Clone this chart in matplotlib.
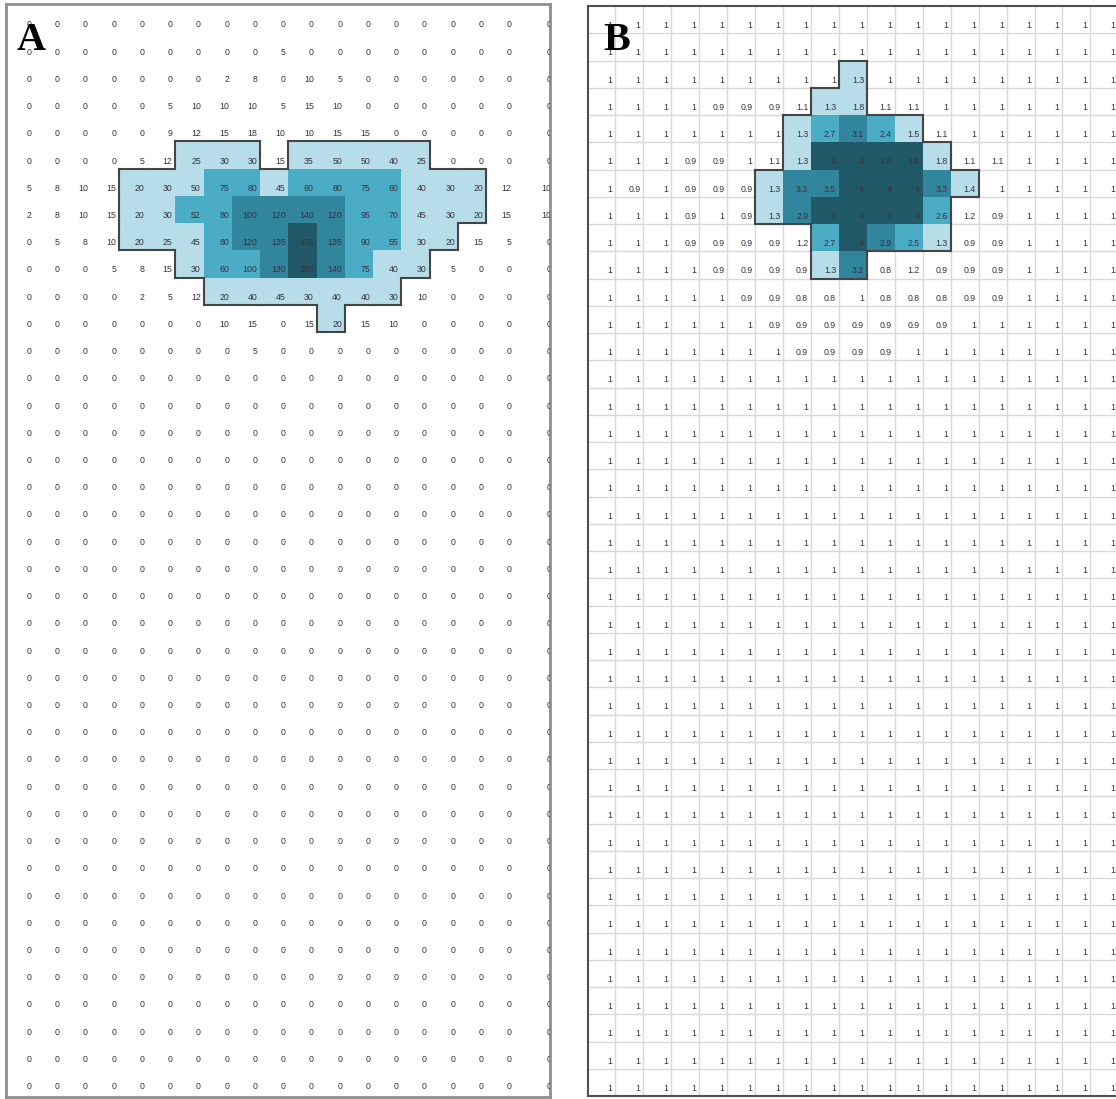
import numpy as np
import matplotlib.pyplot as plt
from matplotlib.collections import LineCollection
from matplotlib.colors import ListedColormap, BoundaryNorm

N_ROWS = 40
N_COLS = 19

# panel A: counts per cell, rows below these are all zero
a_rows = [
    [0, 0, 0, 0, 0, 0, 0, 0, 0, 0, 0, 0, 0, 0, 0, 0, 0, 0, 0],
    [0, 0, 0, 0, 0, 0, 0, 0, 0, 5, 0, 0, 0, 0, 0, 0, 0, 0, 0],
    [0, 0, 0, 0, 0, 0, 0, 2, 8, 0, 10, 5, 0, 0, 0, 0, 0, 0, 0],
    [0, 0, 0, 0, 0, 5, 10, 10, 10, 5, 15, 10, 0, 0, 0, 0, 0, 0, 0],
    [0, 0, 0, 0, 0, 9, 12, 15, 18, 10, 10, 15, 15, 0, 0, 0, 0, 0, 0],
    [0, 0, 0, 0, 5, 12, 25, 30, 30, 15, 35, 50, 50, 40, 25, 0, 0, 0, 0],
    [5, 8, 10, 15, 20, 30, 50, 75, 80, 45, 60, 80, 75, 60, 40, 30, 20, 12, 10],
    [2, 8, 10, 15, 20, 30, 52, 80, 100, 120, 140, 120, 95, 70, 45, 30, 20, 15, 10],
    [0, 5, 8, 10, 20, 25, 45, 80, 120, 135, 175, 135, 90, 55, 30, 20, 15, 5, 0],
    [0, 0, 0, 5, 8, 15, 30, 60, 100, 130, 180, 140, 75, 40, 30, 5, 0, 0, 0],
    [0, 0, 0, 0, 2, 5, 12, 20, 40, 45, 30, 40, 40, 30, 10, 0, 0, 0, 0],
    [0, 0, 0, 0, 0, 0, 0, 10, 15, 0, 15, 20, 15, 10, 0, 0, 0, 0, 0],
    [0, 0, 0, 0, 0, 0, 0, 0, 5, 0, 0, 0, 0, 0, 0, 0, 0, 0, 0],
]

# panel B: ratios per cell, rows below these are all 1
b_rows = [
    [1, 1, 1, 1, 1, 1, 1, 1, 1, 1, 1, 1, 1, 1, 1, 1, 1, 1, 1],
    [1, 1, 1, 1, 1, 1, 1, 1, 1, 1, 1, 1, 1, 1, 1, 1, 1, 1, 1],
    [1, 1, 1, 1, 1, 1, 1, 1, 1, 1.3, 1, 1, 1, 1, 1, 1, 1, 1, 1],
    [1, 1, 1, 1, 0.9, 0.9, 0.9, 1.1, 1.3, 1.8, 1.1, 1.1, 1, 1, 1, 1, 1, 1, 1],
    [1, 1, 1, 1, 1, 1, 1, 1.3, 2.7, 3.1, 2.4, 1.5, 1.1, 1, 1, 1, 1, 1, 1],
    [1, 1, 1, 0.9, 0.9, 1, 1.1, 1.3, 4, 4, 3.8, 3.9, 1.8, 1.1, 1.1, 1, 1, 1, 1],
    [1, 0.9, 1, 0.9, 0.9, 0.9, 1.3, 3.3, 3.5, 4, 4, 4, 3.3, 1.4, 1, 1, 1, 1, 1],
    [1, 1, 1, 0.9, 1, 0.9, 1.3, 2.9, 4, 4, 4, 4, 2.6, 1.2, 0.9, 1, 1, 1, 1],
    [1, 1, 1, 0.9, 0.9, 0.9, 0.9, 1.2, 2.7, 4, 2.9, 2.5, 1.3, 0.9, 0.9, 1, 1, 1, 1],
    [1, 1, 1, 1, 0.9, 0.9, 0.9, 0.9, 1.3, 3.2, 0.8, 1.2, 0.9, 0.9, 0.9, 1, 1, 1, 1],
    [1, 1, 1, 1, 1, 0.9, 0.9, 0.8, 0.8, 1, 0.8, 0.8, 0.8, 0.9, 0.9, 1, 1, 1, 1],
    [1, 1, 1, 1, 1, 1, 0.9, 0.9, 0.9, 0.9, 0.9, 0.9, 0.9, 1, 1, 1, 1, 1, 1],
    [1, 1, 1, 1, 1, 1, 1, 0.9, 0.9, 0.9, 0.9, 1, 1, 1, 1, 1, 1, 1, 1],
]

# class limits for the fill shades
a_bins = [20, 51, 100, 170]
b_bins = [1.3, 2.3, 2.8, 3.7]
a_fix = {(9, 8): 2}

shades = ["#b7dde8", "#4bacc6", "#31859c", "#215968"]


def full_grid(rows, fill):
    g = np.full((N_ROWS, N_COLS), float(fill))
    g[:len(rows)] = np.array(rows, dtype=float)
    return g


def classify(vals, bins, fixes=None):
    lev = np.digitize(vals, bins)
    for (r, c), v in (fixes or {}).items():
        lev[r, c] = v
    return lev


def outline(lev, xe):
    mask = lev > 0
    segs = []
    for r in range(N_ROWS):
        for c in range(N_COLS):
            if not mask[r, c]:
                continue
            x0, x1 = xe[c], xe[c + 1]
            if r == 0 or not mask[r - 1, c]:
                segs.append([(x0, r), (x1, r)])
            if r == N_ROWS - 1 or not mask[r + 1, c]:
                segs.append([(x0, r + 1), (x1, r + 1)])
            if c == 0 or not mask[r, c - 1]:
                segs.append([(x0, r), (x0, r + 1)])
            if c == N_COLS - 1 or not mask[r, c + 1]:
                segs.append([(x1, r), (x1, r + 1)])
    return segs


def panel(ax, vals, lev, xe, gridlines):
    cmap = ListedColormap(shades)
    norm = BoundaryNorm([0.5, 1.5, 2.5, 3.5, 4.5], cmap.N)
    ye = np.arange(N_ROWS + 1)
    if gridlines:
        ax.vlines(xe[1:-1], 0, N_ROWS, color="#d9d9d9", lw=1.0, zorder=1)
        ax.hlines(ye[1:-1], 0, xe[-1], color="#d9d9d9", lw=1.0, zorder=1)
    ax.pcolormesh(xe, ye, np.ma.masked_equal(lev, 0), cmap=cmap, norm=norm, zorder=2)
    ax.add_collection(LineCollection(outline(lev, xe), colors="#454545", lw=1.5,
                                     capstyle="projecting", zorder=3))
    for r in range(N_ROWS):
        for c in range(N_COLS):
            ax.text(xe[c + 1] - 0.1, r + 0.72, f"{vals[r, c]:g}", ha="right", va="center",
                    fontsize=6.3, family="Liberation Sans", color="#333344", zorder=4,
                    clip_on=True)
    ax.set_xticks([])
    ax.set_yticks([])


a_vals = full_grid(a_rows, 0)
b_vals = full_grid(b_rows, 1)
a_lev = classify(a_vals, a_bins, a_fix)
b_lev = classify(b_vals, b_bins)

W, H = 1116, 1099
fig = plt.figure(figsize=(W / 100, H / 100), dpi=100)

# left sheet, last column is wider and runs under the frame
a_w = np.ones(N_COLS)
a_w[-1] = 1.4
a_xe = np.concatenate([[0], np.cumsum(a_w)])
ax_a = fig.add_axes([6 / W, 2 / H, 544 / W, 1093 / H])
panel(ax_a, a_vals, a_lev, a_xe, gridlines=False)
ax_a.set_xlim(0, 544 / 28.24)
ax_a.set_ylim(40.1, -0.05)
for s in ax_a.spines.values():
    s.set_color("#8f8f8f")
    s.set_linewidth(2.0)

# right sheet with cell gridlines, cut at the right edge
b_xe = np.arange(N_COLS + 1, dtype=float)
ax_b = fig.add_axes([587.5 / W, 3 / H, 528.5 / W, 1090 / H])
panel(ax_b, b_vals, b_lev, b_xe, gridlines=True)
ax_b.set_xlim(0, 528.5 / 27.94)
ax_b.set_ylim(N_ROWS, 0)
ax_b.spines["right"].set_visible(False)
for k in ["left", "top", "bottom"]:
    ax_b.spines[k].set_color("#505050")
    ax_b.spines[k].set_linewidth(1.5)

fig.text(17 / W, 1 - 50 / H, "A", fontsize=29, family="Liberation Serif",
         weight="bold", va="baseline")
fig.text(603 / W, 1 - 50 / H, "B", fontsize=29, family="Liberation Serif",
         weight="bold", va="baseline")

fig.savefig("out.png", dpi=100)
